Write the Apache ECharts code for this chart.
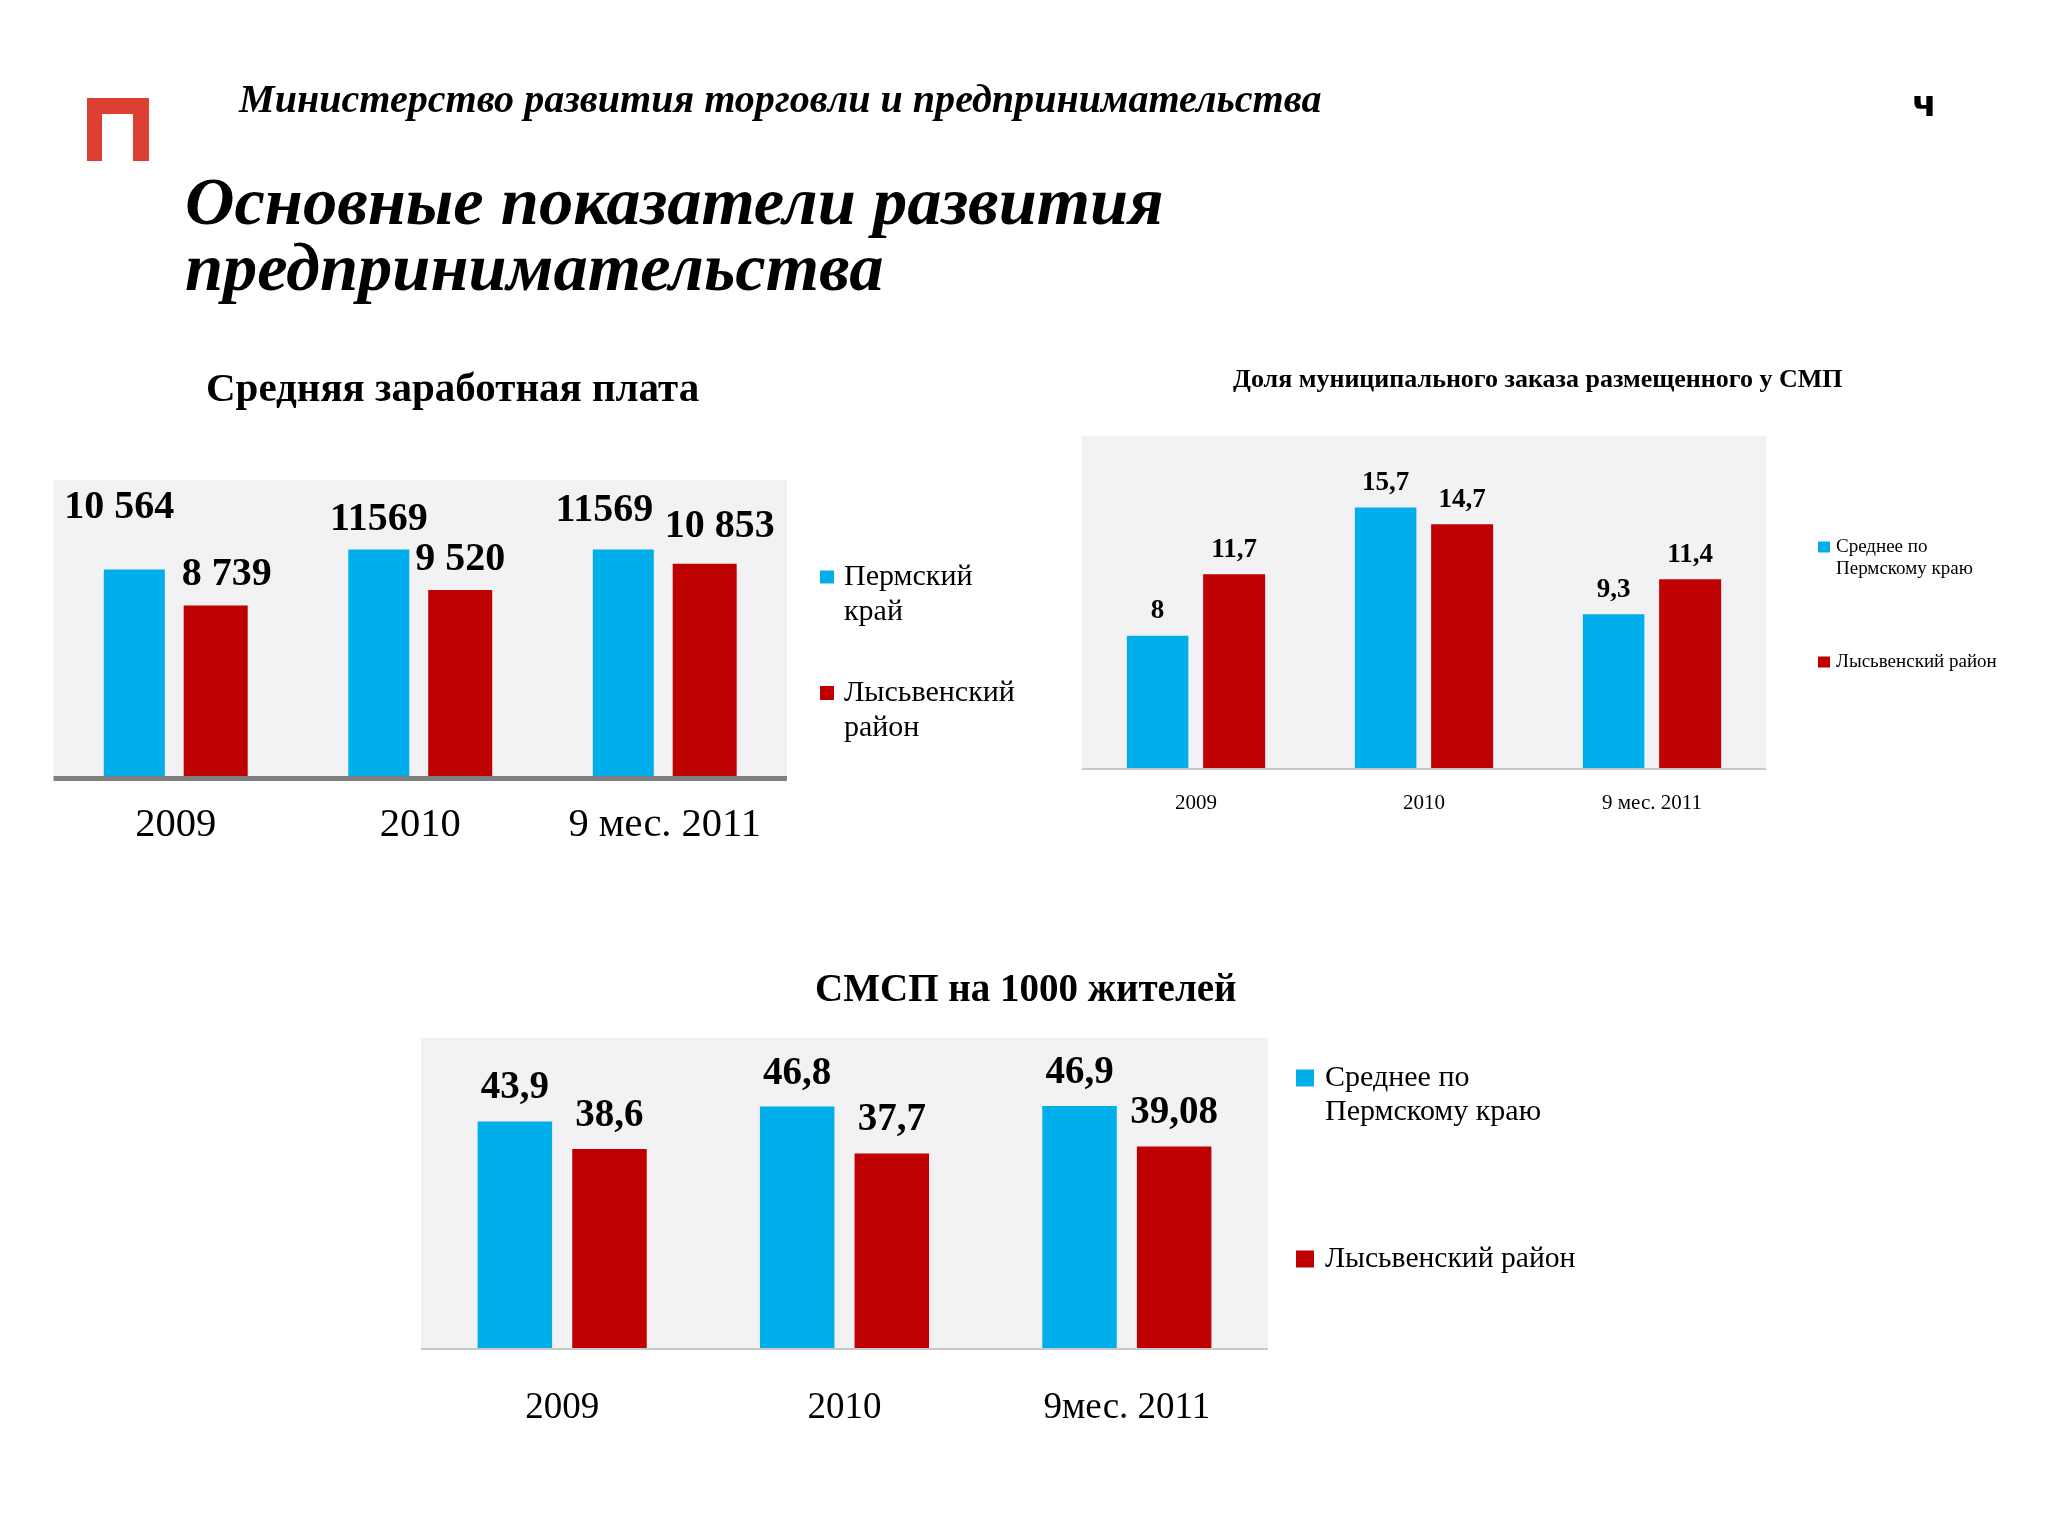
<!DOCTYPE html>
<html><head><meta charset="utf-8">
<script src="https://cdn.jsdelivr.net/npm/echarts@6/dist/echarts.min.js"></script>
<style>html,body{margin:0;padding:0;background:#fff}#c{width:2048px;height:1536px}</style>
</head><body><div id="c"></div>
<script>
const BLUE='#00AEEC', RED='#BE0000', FONT='"Liberation Serif"';
const wageCategories=['2009','2010','9 мес. 2011'];
const wagePerm=[10564,11569,11569];
const wageLys=[8739,9520,10853];
const wagePermLabels=['10 564','11569','11569'];
const wageLysLabels=['8 739','9 520','10 853'];
const orderCategories=['2009','2010','9 мес. 2011'];
const orderPerm=[8,15.7,9.3];
const orderLys=[11.7,14.7,11.4];
const orderPermLabels=['8','15,7','9,3'];
const orderLysLabels=['11,7','14,7','11,4'];
const smspCategories=['2009','2010','9мес. 2011'];
const smspPerm=[43.9,46.8,46.9];
const smspLys=[38.6,37.7,39.08];
const smspPermLabels=['43,9','46,8','46,9'];
const smspLysLabels=['38,6','37,7','39,08'];

function pts(vals,labels,offs){return vals.map((v,i)=>({value:v,label:{formatter:labels[i],offset:offs?offs[i]:[0,0]}}));}
function bar(name,ax,color,width,gap,vals,labels,fs,offs){
 return {type:'bar',name,xAxisIndex:ax,yAxisIndex:ax,barWidth:width,barGap:gap,
  itemStyle:{color},data:pts(vals,labels,offs),
  label:{show:true,position:'top',distance:0,fontFamily:FONT,fontWeight:'bold',fontSize:fs,color:'#000'}};
}
function xA(i,cats,fs,margin,lc,lw){return {type:'category',gridIndex:i,data:cats,z:3,
  axisTick:{show:false},axisLine:{show:true,lineStyle:{color:lc,width:lw,cap:'butt'}},
  axisLabel:{color:'#000',fontFamily:FONT,fontSize:fs,margin,interval:0}};}
function yA(i,max){return {type:'value',gridIndex:i,min:0,max,show:false,splitLine:{show:false}};}
function leg(name,left,top,w,h,fs,lh,pad,twoLines){return {data:[{name,icon:'rect'}],left,top,itemWidth:w,itemHeight:h,orient:'vertical',padding:0,selectedMode:false,
  formatter:n=>twoLines?' \n'+n:n,
  textStyle:{fontFamily:FONT,fontSize:fs,lineHeight:lh,color:'#000',padding:[0,0,0,pad]}};}
function ttl(text,left,top,fs,weight,style,lh){return {text,left,top,padding:0,textStyle:{fontFamily:FONT,fontSize:fs,fontWeight:weight,fontStyle:style,color:'#000',lineHeight:lh||fs*1.15}};}

const chart=echarts.init(document.getElementById('c'));
chart.setOption({
 animation:false,backgroundColor:'#ffffff',
 title:[
  ttl('Министерство развития торговли и предпринимательства',239,79,40.1,'bold','italic'),
  ttl('Основные показатели развития\nпредпринимательства',185,173,68.5,'bold','italic',66),
  ttl('Средняя заработная плата',206,367,41,'bold','normal'),
  ttl('Доля муниципального заказа размещенного у СМП',1233,365,26,'bold','normal'),
  ttl('СМСП на 1000 жителей',815,968,39,'bold','normal')
 ],
 grid:[
  {left:53.5,top:480,width:733.5,height:298.5,show:true,backgroundColor:'#F2F2F4',borderWidth:0},
  {left:1082,top:436,width:684,height:333,show:true,backgroundColor:'#F2F2F4',borderWidth:0},
  {left:421,top:1038,width:847,height:311,show:true,backgroundColor:'#F2F2F4',borderWidth:0}
 ],
 xAxis:[xA(0,wageCategories,40.5,26,'#808080',5),xA(1,orderCategories,21,24,'#C8C8C8',2),xA(2,smspCategories,37,41,'#C8C8C8',2)],
 yAxis:[yA(0,15080),yA(1,20),yA(2,60)],
 legend:[
  leg('Пермский\nкрай',820,524.5,14,13,30,35,5,true),
  leg('Лысьвенский\nрайон',820,640.5,14,14,30,35,5,true),
  leg('Среднее по\nПермскому краю',1818,514,12,11,19,22,1,true),
  leg('Лысьвенский район',1818,651,12,11,19,22,1,false),
  leg('Среднее по\nПермскому краю ',1296,1027,18,17,30,34,6,true),
  leg('Лысьвенский район ',1296,1242,18,17,29.6,34,6,false)
 ],
 series:[
  bar('Пермский\nкрай',0,BLUE,61,'31%',wagePerm,wagePermLabels,40,[[-15,-42],[0,-10],[-19,-19]]),
  bar('Лысьвенский\nрайон',0,RED,64,'31%',wageLys,wageLysLabels,40,[[11,-11],[0,-10],[15,-17]]),
  bar('Среднее по\nПермскому краю',1,BLUE,61.5,'24%',orderPerm,orderPermLabels,27,[[0,-11],[0,-11],[0,-11]]),
  bar('Лысьвенский район',1,RED,62,'24%',orderLys,orderLysLabels,27,[[0,-11],[0,-11],[0,-11]]),
  bar('Среднее по\nПермскому краю ',2,BLUE,74.5,'27%',smspPerm,smspPermLabels,39,[[0,-14],[0,-13],[0,-13]]),
  bar('Лысьвенский район ',2,RED,74.5,'27%',smspLys,smspLysLabels,39,[[0,-14],[0,-14],[0,-14]])
 ],
 graphic:[
  {type:'polygon',silent:true,shape:{points:[[87,98],[149,98],[149,161],[133,161],[133,114],[102,114],[102,161],[87,161]]},style:{fill:'#DC4033'}},
  {type:'text',left:1912,top:89,silent:true,style:{text:'ч',font:'bold 36px "DejaVu Sans"',fill:'#000'}}
 ]
});
</script></body></html>
